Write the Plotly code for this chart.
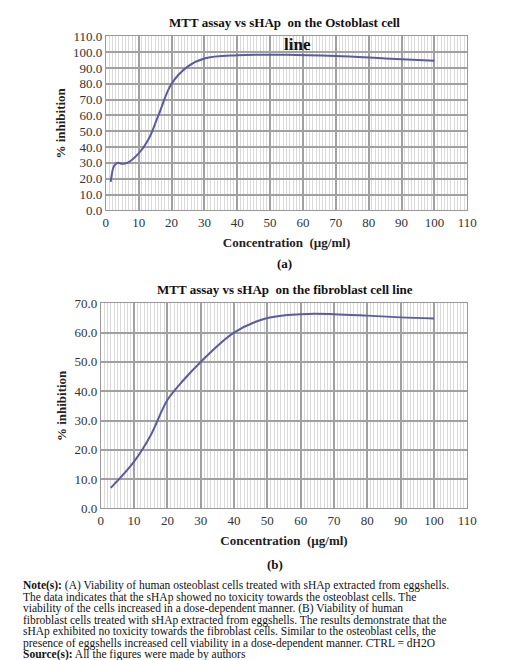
import plotly.graph_objects as go

osteo_x = [1.5, 2.5, 3.5, 5, 6.5, 10, 13, 16, 20, 25, 30, 40, 55, 70, 85, 100]
osteo_y = [18, 28, 30, 29.5, 30, 36, 45, 60, 80, 91, 96, 98, 98.3, 97.5, 96, 94.5]
fibro_x = [3, 10, 15, 20, 25, 30, 40, 50, 60, 70, 80, 90, 100]
fibro_y = [7, 16, 25, 37, 44, 50, 60, 65, 66.3, 66.3, 65.8, 65.2, 64.8]
x_ticks = list(range(0, 111, 10))
note_lines = [
    "<b>Note(s):</b> (A) Viability of human osteoblast cells treated with sHAp extracted from eggshells.",
    "The data indicates that the sHAp showed no toxicity towards the osteoblast cells. The",
    "viability of the cells increased in a dose-dependent manner. (B) Viability of human",
    "fibroblast cells treated with sHAp extracted from eggshells. The results demonstrate that the",
    "sHAp exhibited no toxicity towards the fibroblast cells. Similar to the osteoblast cells, the",
    "presence of eggshells increased cell viability in a dose-dependent manner. CTRL = dH2O",
    "<b>Source(s):</b> All the figures were made by authors",
]

F = "Liberation Serif"
LC = "#5b5b9f"
fig = go.Figure()
fig.add_trace(go.Scatter(x=osteo_x, y=osteo_y, mode="lines", line=dict(color=LC, width=2, shape="spline"), xaxis="x", yaxis="y"))
fig.add_trace(go.Scatter(x=fibro_x, y=fibro_y, mode="lines", line=dict(color=LC, width=2, shape="spline"), xaxis="x2", yaxis="y2"))

tf = dict(family=F, size=13, color="#333")
ax = dict(showgrid=True, gridcolor="#a0a0a0", gridwidth=1.5, showline=True, linecolor="#999", mirror=True,
          tickfont=tf, ticks="", zeroline=False)
xax = dict(ax, range=[0, 110], tickvals=x_ticks, tickformat="d",
           minor=dict(dtick=1, showgrid=True, gridcolor="#dadada", gridwidth=1))
ttl = dict(family=F, size=13, color="#222")
fig.update_layout(
    width=520, height=660, margin=dict(l=0, r=0, t=0, b=0), showlegend=False,
    plot_bgcolor="white", paper_bgcolor="white",
    xaxis=dict(xax, domain=[0.187, 0.9], anchor="y",
               title=dict(text="<b>Concentration  (µg/ml)</b>", font=ttl, standoff=8)),
    yaxis=dict(ax, domain=[0.697, 0.967], range=[0, 110], dtick=10, tickformat=".1f", anchor="x",
               title=dict(text="<b>% inhibition</b>", font=ttl, standoff=4)),
    xaxis2=dict(xax, domain=[0.177, 0.9], anchor="y2",
                title=dict(text="<b>Concentration  (µg/ml)</b>", font=ttl, standoff=8)),
    yaxis2=dict(ax, domain=[0.235, 0.553], range=[0, 70], dtick=10, tickformat=".1f", anchor="x2",
                title=dict(text="<b>% inhibition</b>", font=ttl, standoff=4)),
)
def txt(x, y, s, size=12, xanchor="center"):
    fig.add_annotation(x=x, y=y, xref="paper", yref="paper", text=s, showarrow=False,
                       font=dict(family=F, size=size, color="#111"), xanchor=xanchor, yanchor="middle", align="left")
txt(0.54, 1 - 8/660, "<b>MTT assay vs sHAp  on the Ostoblast cell</b>", 13)
txt(0.565, 1 - 30/660, "<b>line</b>", 17)
txt(0.54, 1 - 254/660, "<b>(a)</b>", 13)
txt(0.54, 1 - 281/660, "<b>MTT assay vs sHAp  on the fibroblast cell line</b>", 13)
txt(0.52, 1 - 562/660, "<b>(b)</b>", 13)
for i, s in enumerate(note_lines):
    txt(0.02, 1 - (584 + i * 11.8) / 660, s, 11.5, xanchor="left")
fig.write_html("out.html")
